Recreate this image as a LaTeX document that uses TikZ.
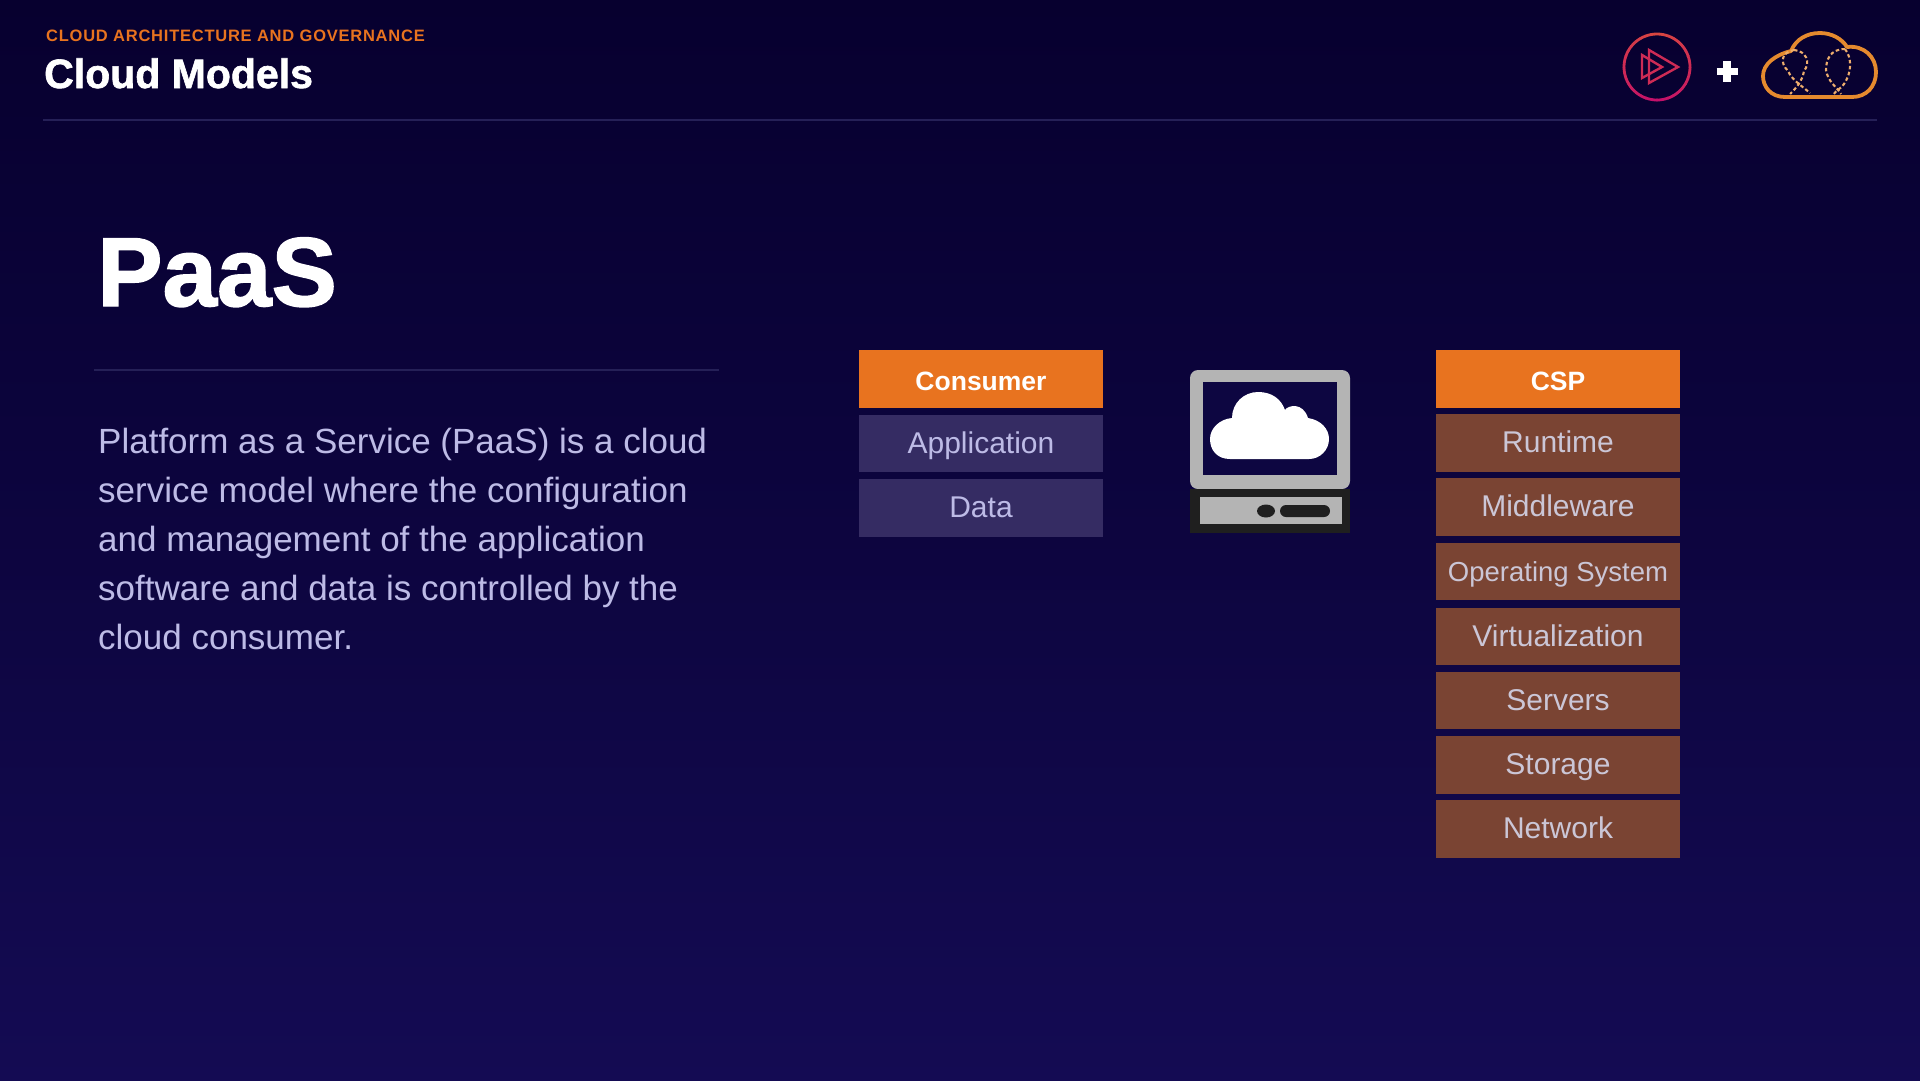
\documentclass[tikz,border=0pt]{standalone}
\usepackage{fontspec}
\setmainfont{Liberation Sans}
\usetikzlibrary{positioning}
\definecolor{bgtop}{HTML}{07002F}
\definecolor{bgbot}{HTML}{140B53}
\definecolor{rulec}{HTML}{252057}
\definecolor{orangec}{HTML}{E8731F}
\definecolor{consc}{HTML}{352C63}
\definecolor{cspc}{HTML}{7A4433}
\definecolor{bodyc}{HTML}{BDBBE6}
\definecolor{csptext}{HTML}{CBC6D6}
\definecolor{greyc}{HTML}{B4B4B4}
\definecolor{cloudc}{HTML}{E58A2E}
\definecolor{ringtop}{HTML}{D84640}
\definecolor{ringbot}{HTML}{C4106A}
\tikzset{txt/.style={inner sep=0pt,anchor=base west},
hd/.style={fill=orangec,text=white,minimum width=244pt,minimum height=58pt,inner sep=0pt,text height=23pt,text depth=1pt,font=\fontsize{26.5}{26.5}\selectfont\bfseries},
cons/.style={hd,fill=consc,text=bodyc,minimum height=57.5pt,text height=23pt,text depth=3.5pt,font=\fontsize{30}{30}\selectfont},
csp/.style={cons,fill=cspc,text=csptext},
dots/.style={cloudc!70!white,line width=2.1pt,dash pattern=on 3.5pt off 2.5pt}}
\begin{document}
\begin{tikzpicture}[x=1pt,y=-1pt]
\useasboundingbox(0,0)rectangle(1920,1080);
\shade[top color=bgtop,bottom color=bgbot,middle color=bgtop!55!bgbot](0,0)rectangle(1920,1080);
% header
\node[txt,text=orangec,font=\fontsize{16.5}{16.5}\selectfont\bfseries\addfontfeature{LetterSpace=4.6}](series)at(46,41){CLOUD ARCHITECTURE AND GOVERNANCE};
\node[txt,text=white,font=\fontsize{41}{41}\selectfont\bfseries\addfontfeature{FakeBold=1.5}](title)at(44,88){Cloud Models};
\coordinate(hl)at(43,120);\coordinate(hr)at(1877,120);
\draw[rulec,line width=2.5pt](hl)--(hr);
% left column
\node[txt,text=white,font=\fontsize{98}{98}\selectfont\bfseries\addfontfeature{FakeBold=1.5}](paas)at(97,306){PaaS};
\coordinate(sl)at(94,370);\coordinate(sr)at(719,370);
\draw[rulec,line width=2.5pt](sl)--(sr);
\node[inner sep=0pt,anchor=north west,align=left,text=bodyc,font=\fontsize{35}{49}\selectfont](body)at(98,427.5){Platform as a Service (PaaS) is a cloud\\service model where the configuration\\and management of the application\\software and data is controlled by the\\cloud consumer.};
% stacks
\node[hd](consumer)at(981,379){Consumer};
\foreach\n/\t/\y in{app/Application/443.5,data/Data/508}\node[cons](\n)at(981,\y){\t};
\node[hd](cspt)at(1558,379){CSP};
\foreach\n/\t/\y in{run/Runtime/443,mid/Middleware/507,virt/Virtualization/636.5,serv/Servers/700.5,stor/Storage/765,net/Network/829}\node[csp](\n)at(1558,\y){\t};
\node[csp,font=\fontsize{27.5}{27.5}\selectfont](os)at(1558,571.5){Operating System};
% monitor
\fill[fill=greyc,rounded corners=8pt](1190,370)rectangle(1350,489);
\fill[fill=bgtop!50!bgbot](1203,382)rectangle(1337,475);
\fill[white](1230,459)..controls(1217,459)and(1210,450)..(1210,439)..controls(1210,428)and(1220,419)..(1232,418)..controls(1232,403)and(1244,392)..(1258,392)..controls(1272,392)and(1281,399)..(1285,410)..controls(1288,405)and(1303,402)..(1308,418)..controls(1321,420)and(1329,429)..(1329,439)..controls(1329,450)and(1320,459)..(1309,459)--cycle;
\fill[fill=black!88](1190,489)rectangle(1350,533);
\fill[fill=greyc](1200,497)rectangle(1342,524);
\fill[fill=black!88](1266,511)ellipse[x radius=9,y radius=6.5];
\fill[fill=black!88,rounded corners=6pt](1280,505)rectangle(1330,517);
% logos
\foreach\a in{0,10,...,170}{\pgfmathtruncatemacro\p{100-\a/170*100}
\draw[color=ringtop!\p!ringbot,line width=2.8pt](1657,67)++(270+\a:33)arc[start angle=270+\a,end angle=281+\a,radius=33];
\draw[color=ringtop!\p!ringbot,line width=2.8pt](1657,67)++(259-\a:33)arc[start angle=259-\a,end angle=270-\a,radius=33];}
\draw[ringtop!50!ringbot,line width=2.4pt](1649,50)--(1678,67)--(1649,83)--cycle;
\draw[ringtop!50!ringbot,line width=2.4pt](1642,55)--(1662,67)--(1642,78)--cycle;
\draw[white,line width=7.5pt](1716.5,71.3)--(1737.5,71.3);
\draw[white,line width=7.5pt](1727,60.8)--(1727,81.8);
\draw[cloudc,line width=3.8pt,line join=round](1785,97)..controls(1771,97)and(1763,87)..(1763,76)..controls(1763,64)and(1775,55)..(1791,51)..controls(1796,39)and(1807,33)..(1820,33)..controls(1832,33)and(1842,39)..(1847,47)..controls(1864,45)and(1876,57)..(1876,72)..controls(1876,87)and(1866,97)..(1852,97)--cycle;
\draw[dots](1794,50)..controls(1782,52)and(1779,62)..(1788,71)..controls(1792,80)and(1802,86)..(1810,93);
\draw[dots](1794,50)..controls(1806,51)and(1811,62)..(1804,71)..controls(1802,82)and(1796,88)..(1790,94);
\draw[dots](1845,49)..controls(1830,49)and(1826,60)..(1826,70)..controls(1828,82)and(1836,86)..(1841,94);
\draw[dots](1845,49)..controls(1852,58)and(1852,72)..(1844,84)..controls(1842,88)and(1836,90)..(1833,95);
\end{tikzpicture}
\end{document}
